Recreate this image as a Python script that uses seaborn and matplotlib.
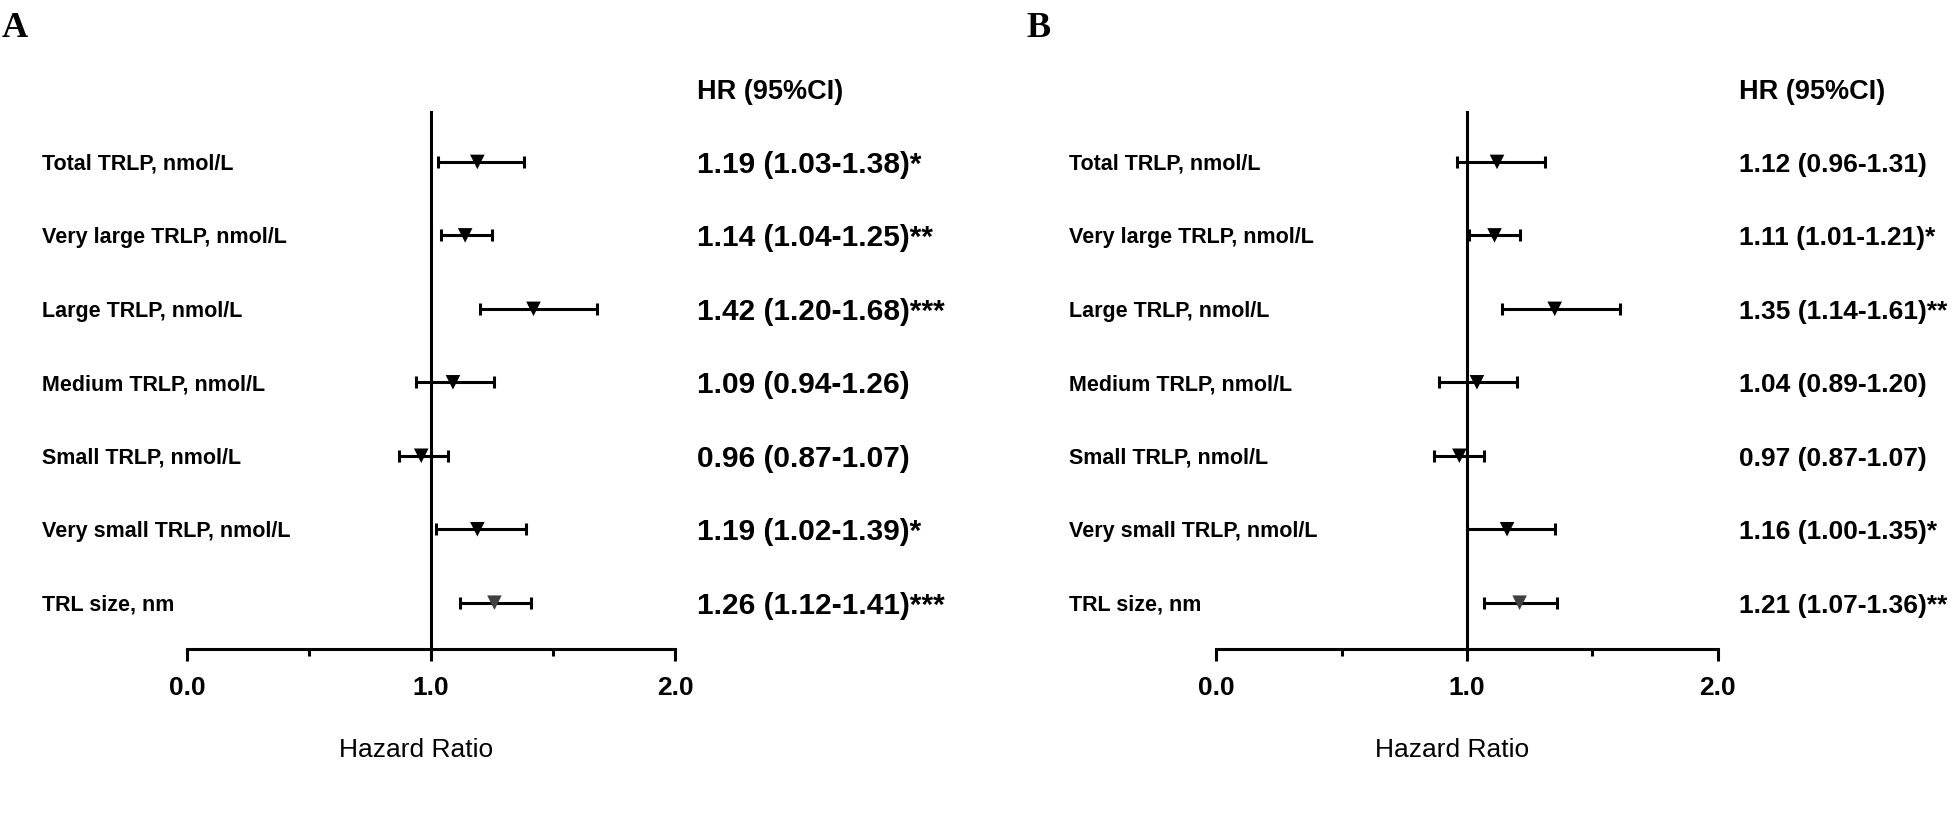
import numpy as np
import pandas as pd
import matplotlib.pyplot as plt
import seaborn as sns
from matplotlib.ticker import FixedLocator
from matplotlib.transforms import blended_transform_factory

# Forest plot data (A and B)
LABELS = ["Total TRLP, nmol/L", "Very large TRLP, nmol/L", "Large TRLP, nmol/L",
          "Medium TRLP, nmol/L", "Small TRLP, nmol/L", "Very small TRLP, nmol/L",
          "TRL size, nm"]
KIND = ["trlp", "trlp", "trlp", "trlp", "trlp", "trlp", "size"]

HR_A = [1.19, 1.14, 1.42, 1.09, 0.96, 1.19, 1.26]
LO_A = [1.03, 1.04, 1.20, 0.94, 0.87, 1.02, 1.12]
HI_A = [1.38, 1.25, 1.68, 1.26, 1.07, 1.39, 1.41]
STARS_A = ["*", "**", "***", "", "", "*", "***"]

HR_B = [1.12, 1.11, 1.35, 1.04, 0.97, 1.16, 1.21]
LO_B = [0.96, 1.01, 1.14, 0.89, 0.87, 1.00, 1.07]
HI_B = [1.31, 1.21, 1.61, 1.20, 1.07, 1.35, 1.36]
STARS_B = ["", "*", "**", "", "", "*", "**"]

XTICKS = [0.0, 1.0, 2.0]
XMINOR = [0.5, 1.5]

sns.set_theme(style="white")
plt.rcParams['font.family'] = ['Liberation Sans', 'DejaVu Sans']
plt.rcParams['text.color'] = 'black'
plt.rcParams['axes.labelcolor'] = 'black'
plt.rcParams['xtick.color'] = 'black'

fig = plt.figure(figsize=(19.52, 8.24), dpi=100)


def forest(ax, hr, lo, hi, stars, label_x, text_x, hr_size):
    df = pd.DataFrame({"hr": hr, "lo": lo, "hi": hi,
                       "pos": np.arange(len(hr)), "kind": KIND})

    # confidence intervals with caps
    ax.errorbar(df["hr"], df["pos"], xerr=[df["hr"] - df["lo"], df["hi"] - df["hr"]],
                fmt="none", ecolor="black", elinewidth=2.2, capsize=4, capthick=2.2,
                zorder=2)
    # point estimates
    sns.scatterplot(data=df, x="hr", y="pos", hue="kind", marker="v", s=110,
                    palette={"trlp": "black", "size": "#404040"}, linewidth=0,
                    legend=False, ax=ax, zorder=3)

    ax.set_xlim(0, 2)
    ax.set_ylim(6.63, -0.68)
    ax.set_yticks([])
    ax.set_ylabel("")
    ax.xaxis.set_major_locator(FixedLocator(XTICKS))
    ax.xaxis.set_minor_locator(FixedLocator(XMINOR))
    ax.set_xticklabels([f"{t:.1f}" for t in XTICKS], fontsize=19, fontweight="bold")
    ax.tick_params(axis="x", which="major", bottom=True, length=8.5, width=2.2,
                   color="black", pad=11)
    ax.tick_params(axis="x", which="minor", bottom=True, length=5, width=2.2,
                   color="black")
    ax.set_xlabel("Hazard Ratio", fontsize=19)
    ax.xaxis.set_label_coords(0.47, -0.165)

    for s in ["top", "right"]:
        ax.spines[s].set_visible(False)
    ax.spines["left"].set_position(("data", 1.0))
    for s in ["left", "bottom"]:
        ax.spines[s].set_linewidth(2.2)
        ax.spines[s].set_color("black")

    trans = blended_transform_factory(fig.transFigure, ax.transData)
    for i, lab in enumerate(LABELS):
        ax.text(label_x, i + 0.03, lab, transform=trans, ha="left", va="center",
                fontsize=15.5, fontweight="bold")
        txt = f"{hr[i]:.2f} ({lo[i]:.2f}-{hi[i]:.2f}){stars[i]}"
        ax.text(text_x, i + 0.04, txt, transform=trans, ha="left", va="center",
                fontsize=hr_size, fontweight="bold")
    fig.text(text_x, 0.888, "HR (95%CI)", ha="left", va="center",
             fontsize=19.5, fontweight="bold")


ax_a = fig.add_axes([0.0958, 0.2124, 0.25, 0.6517])
forest(ax_a, HR_A, LO_A, HI_A, STARS_A, 0.0215, 0.357, 21.5)

ax_b = fig.add_axes([0.623, 0.2124, 0.257, 0.6517])
forest(ax_b, HR_B, LO_B, HI_B, STARS_B, 0.5476, 0.891, 19)

fig.text(0.001, 0.966, "A", ha="left", va="center", fontsize=26,
         fontweight="bold", family="Liberation Serif")
fig.text(0.526, 0.966, "B", ha="left", va="center", fontsize=26,
         fontweight="bold", family="Liberation Serif")

plt.savefig("out.png", dpi=100)
